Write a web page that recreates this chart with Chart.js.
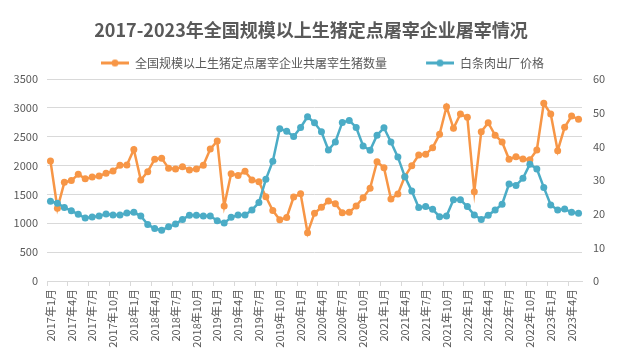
<!DOCTYPE html>
<html>
<head>
<meta charset="utf-8">
<script src="https://cdn.jsdelivr.net/npm/chart.js@4"></script>
<style>
  html, body { margin: 0; padding: 0; background: #fff; }
  #wrap { width: 622px; height: 361px; position: relative; }
</style>
</head>
<body>
<div id="wrap"><canvas id="chart"></canvas></div>
<script>
// 月份分类：2017年1月 - 2023年5月
const years = [2017, 2018, 2019, 2020, 2021, 2022, 2023];
const lastMonth = 5;
const months = [];
for (const y of years) {
  const end = y === 2023 ? lastMonth : 12;
  for (let m = 1; m <= end; m++) months.push(`${y}年${m}月`);
}

// 全国规模以上生猪定点屠宰企业共屠宰生猪数量（万头，左轴）
const slaughter = [
  2080, 1260, 1710, 1740, 1850, 1770, 1800, 1820, 1865, 1905, 2005, 2010,
  2280, 1750, 1895, 2110, 2125, 1955, 1940, 1980, 1925, 1940, 2005, 2285,
  2425, 1300, 1860, 1830, 1900, 1750, 1720, 1460, 1220, 1060, 1100, 1455,
  1510, 835, 1175, 1277, 1386, 1340, 1184, 1190, 1300, 1444, 1606, 2067,
  1963, 1421, 1508, 1808, 1998, 2183, 2195, 2310, 2542, 3020, 2645, 2893,
  2836, 1548, 2587, 2743, 2524, 2409, 2109, 2154, 2114, 2102, 2270, 3079,
  2894, 2258, 2663, 2859, 2802
];

// 白条肉出厂价格（元/公斤，右轴）
const price = [
  23.7, 23.1, 21.8, 20.9, 19.8, 18.7, 19.0, 19.3, 19.9, 19.6, 19.6, 20.2,
  20.4, 19.3, 16.8, 15.6, 15.1, 16.1, 16.9, 18.3, 19.5, 19.5, 19.3, 19.3,
  17.9, 17.2, 18.9, 19.6, 19.6, 21.1, 23.3, 30.2, 35.6, 45.2, 44.5, 42.9,
  45.6, 48.8, 47.0, 44.3, 38.9, 41.3, 47.1, 47.7, 45.6, 40.1, 38.8, 43.3,
  45.5, 41.3, 36.8, 31.0, 26.7, 21.8, 22.1, 21.3, 19.1, 19.3, 24.1, 24.1,
  22.1, 19.6, 18.3, 19.5, 21.1, 22.8, 28.8, 28.4, 30.5, 34.7, 33.3, 27.8,
  22.6, 21.1, 21.4, 20.4, 20.1
];

const seriesNames = ["全国规模以上生猪定点屠宰企业共屠宰生猪数量", "白条肉出厂价格"];
const seriesColors = ["#F79646", "#4BACC6"];

const FONT = "'Noto Sans CJK SC', 'Noto Sans', sans-serif";
const TEXT = "#595959";
const GRID = "#D9D9D9";

// 图例标记：线段中间带圆点（左侧留空用来拉开两个图例的间距）
const MARK_W = 51;
function makeMarker(color) {
  const c = document.createElement("canvas");
  c.width = MARK_W;
  c.height = 9;
  const g = c.getContext("2d");
  g.strokeStyle = color;
  g.lineWidth = 3;
  g.beginPath();
  g.moveTo(MARK_W - 28, 4.5);
  g.lineTo(MARK_W, 4.5);
  g.stroke();
  g.fillStyle = color;
  g.beginPath();
  g.arc(MARK_W - 14, 4.5, 3.5, 0, Math.PI * 2);
  g.fill();
  return c;
}
const markers = seriesColors.map(makeMarker);

const ctx = document.getElementById("chart");
new Chart(ctx, {
  type: "line",
  data: {
    labels: months,
    datasets: [
      {
        label: seriesNames[0],
        data: slaughter,
        yAxisID: "y",
        borderColor: seriesColors[0],
        backgroundColor: seriesColors[0],
        borderWidth: 2.5,
        pointRadius: 3.5,
        pointBorderWidth: 0,
        tension: 0,
        order: 1
      },
      {
        label: seriesNames[1],
        data: price,
        yAxisID: "y1",
        borderColor: seriesColors[1],
        backgroundColor: seriesColors[1],
        borderWidth: 2.5,
        pointRadius: 3.5,
        pointBorderWidth: 0,
        tension: 0,
        order: 0
      }
    ]
  },
  options: {
    responsive: true,
    maintainAspectRatio: false,
    animation: false,
    layout: { padding: 0 },
    scales: {
      x: {
        offset: true,
        grid: {
          offset: true,
          drawOnChartArea: false,
          drawTicks: true,
          tickLength: 5,
          color: c => (c.index % 3 === 0 ? GRID : "rgba(0,0,0,0)")
        },
        border: { color: GRID },
        ticks: {
          autoSkip: false,
          minRotation: 90,
          maxRotation: 90,
          padding: 3,
          color: TEXT,
          font: { family: FONT, size: 11 },
          callback: (v, i) => (i % 3 === 0 ? months[i] : "")
        },
        afterFit: s => { s.height = 80; }
      },
      y: {
        position: "left",
        min: 0,
        max: 3500,
        ticks: {
          stepSize: 500,
          padding: 9,
          color: TEXT,
          font: { family: FONT, size: 11 },
          callback: v => String(v)
        },
        grid: { color: GRID, drawTicks: false },
        border: { display: false },
        // 绘图区顶部留出与图例之间的空隙
        afterFit: s => { s.width = 47; s.paddingTop = 79; }
      },
      y1: {
        position: "right",
        min: 0,
        max: 60,
        ticks: { stepSize: 10, padding: 11, color: TEXT, font: { family: FONT, size: 11 } },
        grid: { drawOnChartArea: false, drawTicks: false },
        border: { display: false },
        afterFit: s => { s.width = 40; }
      }
    },
    plugins: {
      title: {
        display: true,
        text: "2017-2023年全国规模以上生猪定点屠宰企业屠宰情况",
        color: TEXT,
        font: { family: FONT, size: 18, weight: "bold" },
        padding: { top: 14, bottom: 0 }
      },
      legend: {
        position: "top",
        labels: {
          usePointStyle: true,
          pointStyleWidth: MARK_W,
          padding: 16,
          color: TEXT,
          font: { family: FONT, size: 12 },
          generateLabels: chart => chart.data.datasets.map((ds, i) => ({
            text: ds.label,
            fontColor: TEXT,
            pointStyle: markers[i],
            fillStyle: "rgba(0,0,0,0)",
            strokeStyle: "rgba(0,0,0,0)",
            lineWidth: 0,
            hidden: false,
            datasetIndex: i
          }))
        }
      },
      tooltip: { enabled: false }
    }
  }
});
</script>
</body>
</html>
